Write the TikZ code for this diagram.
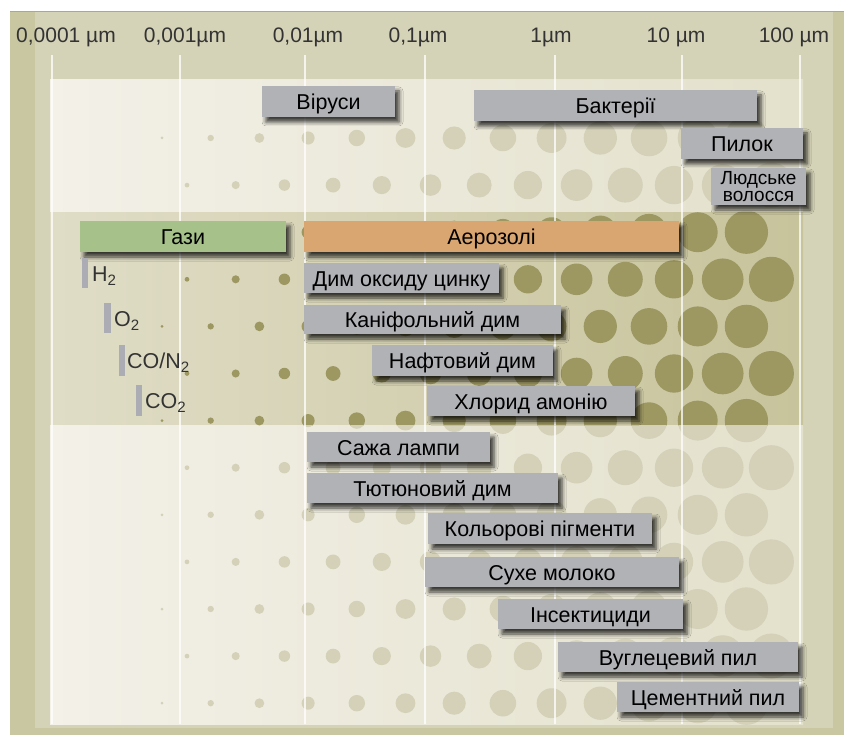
\documentclass[tikz,border=0pt]{standalone}
\usepackage{fontspec}
\setmainfont{Liberation Sans}
\usetikzlibrary{shadows.blur}
\definecolor{outerk}{HTML}{C9C7A2}
\definecolor{innerk}{HTML}{D5D3B7}
\definecolor{creamL}{HTML}{F3F1E8}
\definecolor{creamR}{HTML}{E3E0CB}
\definecolor{midL}{HTML}{E0DDC7}
\definecolor{midR}{HTML}{C7C39B}
\definecolor{dotlight}{HTML}{D4D1B8}
\definecolor{dotolive}{HTML}{9D9762}
\definecolor{boxgray}{HTML}{B1B2B6}
\definecolor{gasgreen}{HTML}{A6C189}
\definecolor{aeroorange}{HTML}{D9A570}
\definecolor{barg}{HTML}{ACACB4}
\definecolor{labtxt}{HTML}{333333}
\newcommand\dotgrid[1]{%
  \foreach \i in {0,...,12}{%
    \pgfmathsetmacro\yy{138+47.1*\i}%
    \pgfmathsetmacro\xo{162+25*mod(\i,2)}%
    \foreach \k in {0,...,12}{%
      \pgfmathsetmacro\xx{\xo+48.7*\k}%
      \pgfmathsetmacro\rr{1.5+0.0345*(\xx-162)}%
      \fill[#1] (\xx,\yy) circle[radius=\rr pt];
    }%
  }%
}
\begin{document}
\begin{tikzpicture}[x=1pt,y=-1pt,
  gbox/.style={fill=boxgray, inner sep=0pt, text=black, align=center,
    font=\fontsize{21.5}{23}\selectfont, text height=16.5pt, text depth=0pt,
    blur shadow={shadow xshift=4pt, shadow yshift=-5pt, shadow blur radius=4pt, shadow opacity=75}},
  axlab/.style={text=labtxt, font=\fontsize{21}{23}\selectfont, inner sep=0pt, anchor=base},
  gaslab/.style={text=labtxt, font=\fontsize{21.5}{23}\selectfont, inner sep=0pt, anchor=base west},
  gline/.style={white, opacity=0.75, line width=2.6pt}]
\useasboundingbox (0,0) rectangle (844,735);
\fill[white] (0,0) rectangle (844,735);
% frame
\fill[outerk] (10,11) rectangle (844,735);
\fill[innerk] (35,11) rectangle (833,728);
\draw[gray!70, line width=0.8pt] (10,11) -- (844,11);
% bands
\shade[left color=creamL, right color=creamR] (50,80) rectangle (803,213);
\shade[left color=midL, right color=midR] (50,213) rectangle (803,426);
\shade[left color=creamL, right color=creamR] (50,426) rectangle (803,724);
% dots
\begin{scope}
  \clip (50,80) rectangle (803,213);
  \dotgrid{dotlight}
\end{scope}
\begin{scope}
  \clip (50,213) rectangle (803,426);
  \dotgrid{dotolive}
\end{scope}
\begin{scope}
  \clip (50,426) rectangle (803,724);
  \dotgrid{dotlight}
\end{scope}
% vertical grid lines
\foreach \gx in {52,180,305,425,555,682,800}{
  \draw[gline] (\gx,55) -- (\gx,724);
}
% axis labels
\node[axlab] (a1) at (66,43) {0,0001 µm};
\node[axlab] (a2) at (185,43) {0,001µm};
\node[axlab] (a3) at (308,43) {0,01µm};
\node[axlab] (a4) at (418,43) {0,1µm};
\node[axlab] (a5) at (551,43) {1µm};
\node[axlab] (a6) at (676,43) {10 µm};
\node[axlab] (a7) at (794,43) {100 µm};
% boxes
\node[gbox, minimum width=133pt, minimum height=31pt] (vir) at (328.5,101.5) {Віруси};
\node[gbox, minimum width=283pt, minimum height=31pt] (bak) at (615.5,105.5) {Бактерії};
\node[gbox, minimum width=122pt, minimum height=31pt] (pyl) at (742,143.5) {Пилок};
\node[gbox, minimum width=95pt, minimum height=37pt, text height=, text depth=, font=\fontsize{19}{17.5}\selectfont] (vol) at (758.5,186.5) {Людське\\волосся};
\node[gbox, fill=gasgreen, minimum width=206pt, minimum height=31pt] (gaz) at (183,236.5) {Гази};
\node[gbox, fill=aeroorange, minimum width=375pt, minimum height=31pt] (aer) at (491.5,236.5) {Аерозолі};
\node[gbox, minimum width=195pt, minimum height=30pt] (zn) at (401.5,278) {Дим оксиду цинку};
\node[gbox, minimum width=257pt, minimum height=29pt] (kan) at (432.5,319.5) {Каніфольний дим};
\node[gbox, minimum width=181pt, minimum height=31pt] (naf) at (462.5,360.5) {Нафтовий дим};
\node[gbox, minimum width=208pt, minimum height=30pt] (xlo) at (531,401) {Хлорид амонію};
\node[gbox, minimum width=183pt, minimum height=30pt] (saz) at (398.5,447) {Сажа лампи};
\node[gbox, minimum width=251pt, minimum height=30pt] (tyu) at (432.5,488) {Тютюновий дим};
\node[gbox, minimum width=224pt, minimum height=31pt] (kol) at (540,528.5) {Кольорові пігменти};
\node[gbox, minimum width=254pt, minimum height=30pt] (mol) at (552,572) {Сухе молоко};
\node[gbox, minimum width=185pt, minimum height=30pt] (ins) at (590.5,614) {Інсектициди};
\node[gbox, minimum width=240pt, minimum height=30pt] (vug) at (678,657) {Вуглецевий пил};
\node[gbox, minimum width=182pt, minimum height=30pt] (cem) at (708,697) {Цементний пил};
% gas bars and labels
\fill[barg] (82,258) rectangle (88,288);
\fill[barg] (104,303) rectangle (111,333);
\fill[barg] (119,345) rectangle (125,376);
\fill[barg] (136,385) rectangle (142,416);
\node[gaslab] (h2) at (92,282) {H\textsubscript{2}};
\node[gaslab] (o2) at (114,327) {O\textsubscript{2}};
\node[gaslab] (con) at (127,369) {CO/N\textsubscript{2}};
\node[gaslab] (co2) at (145,409) {CO\textsubscript{2}};
\end{tikzpicture}
\end{document}
